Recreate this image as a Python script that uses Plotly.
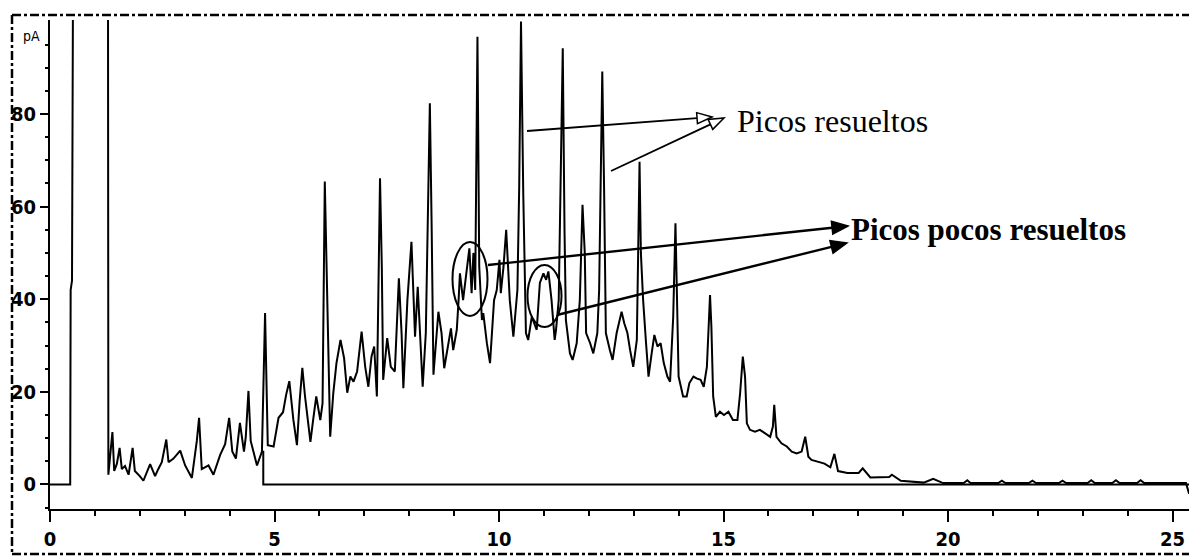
import plotly.graph_objects as go

# ---------------- data ----------------
time_min = [
    0, 0.45, 0.46, 0.49, 0.52, 1.29, 1.30, 1.39, 1.43, 1.49, 1.55, 1.60, 1.67, 1.75, 1.84, 1.89,
    2.00, 2.08, 2.23, 2.34, 2.41, 2.49, 2.59, 2.64, 2.75, 2.90, 3.01, 3.16, 3.27, 3.32, 3.38,
    3.53, 3.64, 3.79, 3.90, 3.99, 4.06, 4.14, 4.23, 4.32, 4.36, 4.42, 4.47, 4.61, 4.72, 4.79,
    4.85, 4.98, 5.09, 5.19, 5.26, 5.33, 5.42, 5.50, 5.56, 5.62, 5.68, 5.80, 5.86, 5.93, 6.02,
    6.07, 6.12, 6.18, 6.24, 6.31, 6.38, 6.47, 6.55, 6.62, 6.69, 6.76, 6.84, 6.94, 7.02, 7.09,
    7.16, 7.22, 7.28, 7.35, 7.39, 7.42, 7.51, 7.59, 7.68, 7.77, 7.83, 7.87, 7.96, 8.05, 8.09,
    8.13, 8.19, 8.24, 8.30, 8.37, 8.46, 8.50, 8.54, 8.65, 8.72, 8.78, 8.87, 8.93, 8.98, 9.06,
    9.10, 9.13, 9.20, 9.28, 9.34, 9.39, 9.43, 9.47, 9.52, 9.56, 9.62, 9.65, 9.73, 9.80, 9.89,
    9.95, 10.01, 10.04, 10.10, 10.16, 10.21, 10.24, 10.32, 10.41, 10.45, 10.49, 10.54, 10.60,
    10.65, 10.73, 10.84, 10.91, 10.99, 11.05, 11.10, 11.17, 11.24, 11.27, 11.33, 11.42, 11.46,
    11.49, 11.58, 11.64, 11.73, 11.80, 11.86, 11.91, 11.94, 12.03, 12.10, 12.19, 12.23, 12.30,
    12.34, 12.38, 12.47, 12.53, 12.62, 12.73, 12.79, 12.86, 12.92, 12.99, 13.07, 13.13, 13.16,
    13.21, 13.27, 13.33, 13.40, 13.46, 13.53, 13.60, 13.67, 13.75, 13.81, 13.88, 13.93, 13.96,
    14.00, 14.10, 14.18, 14.24, 14.33, 14.40, 14.49, 14.56, 14.63, 14.70, 14.73, 14.77, 14.83,
    14.92, 15.01, 15.11, 15.21, 15.31, 15.37, 15.43, 15.48, 15.52, 15.59, 15.70, 15.81, 15.92,
    16.04, 16.10, 16.13, 16.18, 16.29, 16.41, 16.52, 16.63, 16.74, 16.82, 16.89, 16.96, 17.25,
    17.38, 17.47, 17.55, 17.76, 18.01, 18.10, 18.27, 18.69, 18.75, 18.95, 19.46, 19.67, 19.89,
    20.35, 20.43, 20.50, 21.12, 21.20, 21.28, 21.80, 21.88, 21.96, 22.47, 22.55, 22.63, 23.11,
    23.19, 23.27, 23.66, 23.74, 23.82, 24.21, 24.29, 24.37, 25.30, 25.37, 25.42,
]
signal_pA = [
    0, 0, 42, 44, 130, 130, 2.1, 11.3, 2.9, 4.5, 7.9, 3.3, 4.0, 2.1, 7.9, 2.9,
    1.8, 0.8, 4.4, 1.8, 3.3, 4.8, 9.7, 4.8, 5.6, 7.3, 4.1, 1.4, 9.4, 14.4, 3.3,
    4.1, 2.1, 6.4, 8.7, 14.4, 7.1, 5.6, 13.3, 7.1, 10.2, 20.2, 9.4, 4.1, 7.1, 37.0,
    8.5, 8.2, 14.4, 15.6, 19.4, 22.3, 14.0, 8.5, 18.0, 25.2, 19.0, 9.2, 13.9, 19.0, 13.9,
    17.5, 65.4, 37.0, 10.3, 19.8, 26.2, 31.2, 27.3, 19.8, 23.3, 22.2, 24.4, 33.0, 25.4, 21.1,
    27.6, 29.8, 19.0, 66.1, 47.0, 22.6, 31.6, 25.4, 24.4, 44.5, 32.7, 20.8, 39.8, 52.4, 43.5,
    31.9, 42.7, 32.7, 21.1, 32.7, 82.3, 55.7, 23.7, 37.3, 32.7, 25.1, 30.5, 33.7, 29.0, 33.4,
    39.8, 45.6, 39.8, 47.0, 51.0, 41.3, 50.0, 42.0, 96.7, 47.0, 35.5, 37.0, 30.5, 26.2, 39.8,
    42.0, 48.5, 41.3, 47.0, 55.0, 47.0, 39.8, 31.9, 42.0, 64.3, 100.0, 62.9, 32.7,
    31.2, 36.2, 33.4, 43.5, 45.6, 44.2, 46.0, 39.8, 31.2, 33.4, 39.8, 94.2, 54.3,
    35.5, 28.3, 26.9, 30.5, 39.8, 60.4, 50.0, 32.7, 30.5, 28.3, 32.7, 42.0, 89.2,
    64.3, 32.7, 29.0, 26.9, 32.7, 37.3, 34.8, 32.7, 29.0, 25.4, 31.2, 69.7, 50.0,
    39.8, 31.2, 23.3, 28.3, 32.3, 29.8, 30.5, 26.2, 23.3, 22.2, 36.2, 56.4, 42.7,
    23.3, 19.0, 19.0, 21.9, 23.3, 22.9, 22.6, 21.1, 25.4, 40.9, 34.1, 19.0, 14.6,
    15.7, 15.0, 15.7, 13.9, 13.9, 19.7, 27.6, 23.3, 13.2, 11.8, 11.4, 11.8, 11.1,
    10.3, 12.5, 17.2, 10.3, 8.9, 8.2, 7.1, 6.7, 7.1, 10.3, 6.0, 5.3, 4.5,
    3.7, 6.6, 2.9, 2.5, 2.5, 3.5, 1.5, 1.6, 2.1, 0.8, 0.4, 1.2, 0.3,
    0.3, 0.9, 0.3, 0.3, 0.8, 0.3, 0.3, 0.8, 0.3, 0.3, 0.8, 0.3, 0.3,
    0.9, 0.3, 0.3, 0.9, 0.3, 0.3, 0.9, 0.3, 0.3, -2.0, 0.2,
]
# second signal: drops to the zero baseline at ~4.75 min
baseline_time = [4.75, 4.75, 25.45]
baseline_pA = [7.3, 0.0, 0.0]

x_major = [0, 5, 10, 15, 20, 25]
x_minor = [v for v in range(0, 26) if v % 5 != 0]
y_major = [0, 20, 40, 60, 80]
y_minor = [v for v in range(-5, 100, 5) if v % 20 != 0]

label_resolved = "Picos resueltos"
label_poor = "Picos pocos resueltos"
unit_label = "pA"

# ---------------- layout geometry ----------------
# the page body adds an 8 px offset; screen px = figure px + 8
OFF = 8
W, H = 1197 - OFF, 557 - OFF
ML, MR, MT, MB = 42, 2, 12, 48
PW, PH = W - ML - MR, H - MT - MB


def px(xs):
    """screen x pixel -> paper x"""
    return (xs - OFF - ML) / PW


def py(ys):
    """screen y pixel -> paper y"""
    return (H - MB - (ys - OFF)) / PH


tick_font = dict(family="Noto Sans ExtraCondensed, Noto Sans Condensed, DejaVu Sans Condensed, "
                        "Liberation Sans Narrow, Liberation Sans, sans-serif",
                 size=20, color="black", weight="bold")

fig = go.Figure()
fig.add_trace(go.Scatter(x=baseline_time, y=baseline_pA, mode="lines",
                         line=dict(color="black", width=2), hoverinfo="skip", showlegend=False))
fig.add_trace(go.Scatter(x=time_min, y=signal_pA, mode="lines",
                         line=dict(color="black", width=2), showlegend=False))

shapes = []
# dashed page border (top, left, bottom)
border = dict(color="black", width=2.5, dash="dashdot")
shapes.append(dict(type="line", xref="paper", yref="paper", x0=px(12), x1=px(1197), y0=py(15), y1=py(15),
                   line=border))
shapes.append(dict(type="line", xref="paper", yref="paper", x0=px(12), x1=px(1197), y0=py(554), y1=py(554),
                   line=border))
shapes.append(dict(type="line", xref="paper", yref="paper", x0=px(12), x1=px(12), y0=py(15), y1=py(554),
                   line=border))
# ellipses
shapes.append(dict(type="circle", xref="paper", yref="paper", x0=px(452.5), x1=px(487.5), y0=py(242), y1=py(316),
                   line=dict(color="black", width=2)))
shapes.append(dict(type="circle", xref="paper", yref="paper", x0=px(527.5), x1=px(561.5), y0=py(265), y1=py(327),
                   line=dict(color="black", width=2)))


def arrow(x0, y0, x1, y1, head_len, head_w, fill, lw):
    dx, dy = x1 - x0, y1 - y0
    n = (dx * dx + dy * dy) ** 0.5
    ux, uy = dx / n, dy / n
    bx, by = x1 - ux * head_len, y1 - uy * head_len
    shapes.append(dict(type="line", xref="paper", yref="paper", x0=px(x0), y0=py(y0), x1=px(bx), y1=py(by),
                       line=dict(color="black", width=lw)))
    p1 = (bx - uy * head_w, by + ux * head_w)
    p2 = (bx + uy * head_w, by - ux * head_w)
    path = "M{},{} L{},{} L{},{} Z".format(px(x1), py(y1), px(p1[0]), py(p1[1]), px(p2[0]), py(p2[1]))
    shapes.append(dict(type="path", xref="paper", yref="paper", path=path,
                       fillcolor=fill, line=dict(color="black", width=1.5)))


# open-head arrows -> "Picos resueltos"
arrow(527, 131, 712, 117, 15, 5.5, "white", 1.8)
arrow(611, 171, 724, 118, 15, 5.5, "white", 1.8)
# filled arrows -> "Picos pocos resueltos"
arrow(488, 265, 848, 226, 16, 6.5, "black", 2.4)
arrow(557, 315, 847, 243, 16, 6.5, "black", 2.4)

annotations = [
    dict(text=label_resolved, xref="paper", yref="paper", x=px(735), y=py(121), xanchor="left", yanchor="middle",
         showarrow=False, font=dict(family="Liberation Serif, Times New Roman, serif", size=32, color="black")),
    dict(text=label_poor, xref="paper", yref="paper", x=px(849), y=py(230), xanchor="left", yanchor="middle",
         showarrow=False, font=dict(family="Liberation Serif, Times New Roman, serif", size=31, color="black",
                                    weight="bold")),
    dict(text=unit_label, xref="paper", yref="paper", x=px(31), y=py(36), xanchor="center", yanchor="middle",
         showarrow=False, font=dict(family=tick_font["family"], size=14, color="black")),
]

fig.update_layout(
    width=W, height=H,
    margin=dict(l=ML, r=MR, t=MT, b=MB, pad=0),
    paper_bgcolor="white", plot_bgcolor="white",
    shapes=shapes, annotations=annotations,
    xaxis=dict(range=[0, PW / 44.9], showgrid=False, zeroline=False, showline=True, linecolor="black",
               linewidth=2, ticks="outside", ticklen=11, tickwidth=2, tickcolor="black",
               tickvals=x_major, ticktext=[str(v) for v in x_major], tickfont=tick_font, automargin=False,
               minor=dict(tickvals=x_minor, ticks="outside", ticklen=5, tickwidth=2, tickcolor="black",
                          showgrid=False)),
    yaxis=dict(range=[-5.3, 100.3], showgrid=False, zeroline=False, showline=True, linecolor="black",
               linewidth=2, ticks="outside", ticklen=8, tickwidth=2, tickcolor="black",
               tickvals=y_major, ticktext=[str(v) for v in y_major], tickfont=tick_font, automargin=False,
               minor=dict(tickvals=y_minor, ticks="outside", ticklen=3, tickwidth=2, tickcolor="black",
                          showgrid=False)),
)

fig.write_html("out.html")
